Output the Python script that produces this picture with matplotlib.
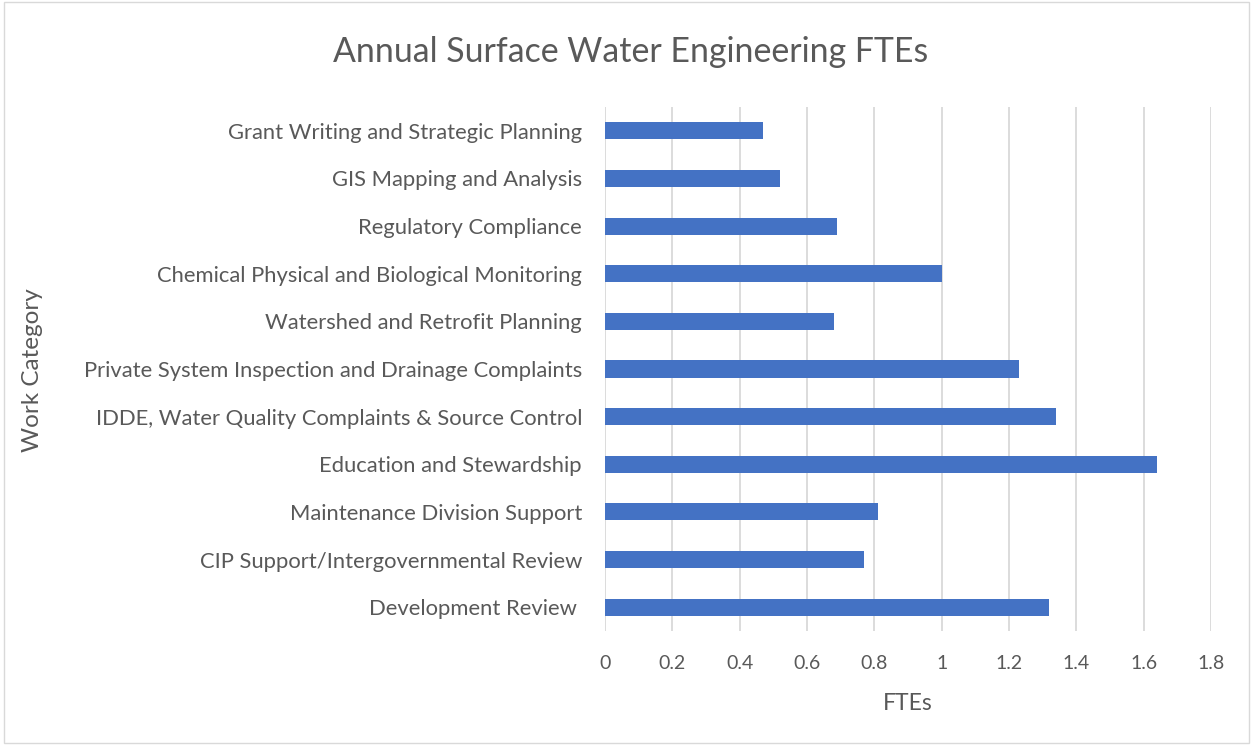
import matplotlib.pyplot as plt
from matplotlib.patches import Rectangle

categories = [
    "Development Review ",
    "CIP Support/Intergovernmental Review",
    "Maintenance Division Support",
    "Education and Stewardship",
    "IDDE, Water Quality Complaints & Source Control",
    "Private System Inspection and Drainage Complaints",
    "Watershed and Retrofit Planning",
    "Chemical Physical and Biological Monitoring",
    "Regulatory Compliance",
    "GIS Mapping and Analysis",
    "Grant Writing and Strategic Planning",
]
ftes = [1.32, 0.77, 0.81, 1.64, 1.34, 1.23, 0.68, 1.0, 0.69, 0.52, 0.47]
xticks = [0, 0.2, 0.4, 0.6, 0.8, 1, 1.2, 1.4, 1.6, 1.8]
xtick_labels = ["0", "0.2", "0.4", "0.6", "0.8", "1", "1.2", "1.4", "1.6", "1.8"]

def main():
    plt.rcParams['font.family'] = ['Lato', 'DejaVu Sans']
    text_color = '#595959'
    W, H = 1253, 745
    fig = plt.figure(figsize=(W / 100, H / 100), dpi=100)
    ax = fig.add_axes([605 / W, 1 - 631 / H, (1211 - 605) / W, (631 - 107) / H])

    ax.barh(range(len(categories)), ftes, height=0.36, color='#4472C4', zorder=3)
    ax.set_xlim(0, 1.8)
    ax.set_ylim(-0.5, len(categories) - 0.5)
    ax.set_xticks(xticks)
    ax.set_xticklabels(xtick_labels)
    ax.set_yticks(range(len(categories)))
    ax.set_yticklabels(categories)
    ax.tick_params(axis='both', length=0, colors=text_color)
    ax.tick_params(axis='x', pad=17, labelsize=14)
    ax.tick_params(axis='y', pad=16.5, labelsize=15.8)
    ax.grid(axis='x', color='#D9D9D9', linewidth=1.3, zorder=0)
    for s in ax.spines.values():
        s.set_visible(False)

    fig.text(631 / W, 1 - 52 / H, 'Annual Surface Water Engineering FTEs',
             ha='center', va='center', fontsize=24.4, color=text_color)
    fig.text(908 / W, 1 - 703 / H, 'FTEs', ha='center', va='center',
             fontsize=16.5, color=text_color)
    fig.text(33 / W, 1 - 370 / H, 'Work Category', ha='center', va='center',
             rotation=90, fontsize=17.5, color=text_color)

    fig.patches.append(Rectangle((0.003, 0.003), 0.994, 0.994, transform=fig.transFigure,
                                 fill=False, edgecolor='#D9D9D9', linewidth=1))
    fig.savefig('out.png', dpi=100)

if __name__ == "__main__":
    main()
